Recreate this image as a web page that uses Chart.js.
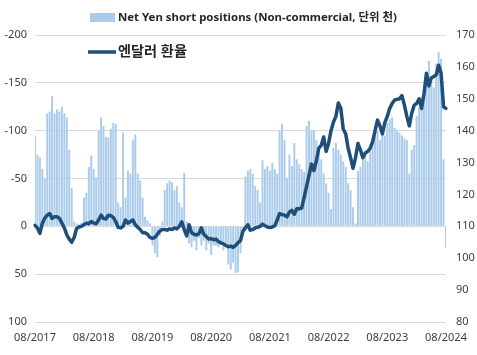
<!DOCTYPE html>
<html>
<head>
<meta charset="utf-8">
<script src="https://cdn.jsdelivr.net/npm/chart.js@4.4.1/dist/chart.umd.min.js"></script>
<style>
  html, body { margin: 0; padding: 0; background: #ffffff; }
  #wrap { width: 477px; height: 355px; position: relative; }
</style>
</head>
<body>
<div id="wrap"><canvas id="c" width="477" height="355"></canvas></div>
<script>
// ---- data (half-monthly, 08/2017 .. 08/2024) ----
const startYear = 2017;
const xTickLabels = ['08/2017','08/2018','08/2019','08/2020','08/2021','08/2022','08/2023','08/2024'];
const leftTicks = [-200, -150, -100, -50, 0, 50, 100];
const rightTicks = [80, 90, 100, 110, 120, 130, 140, 150, 160, 170];

// Net Yen short positions (Non-commercial, thousands; negative = net short)
const shortPositions = [
  -95, -75, -72, -60, -50, -118, -120, -136, -118, -122,
  -120, -125, -118, -114, -80, -40, -5, -3, -2, -4,
  -30, -35, -62, -74, -60, -51, -100, -114, -105, -93,
  -93, -102, -108, -107, -25, -20, -98, -30, -58, -55,
  -90, -96, -55, -48, -30, -10, -6, -3, 20, 28,
  32, 10, -5, -38, -45, -48, -46, -38, -42, -25,
  -20, -56, -5, 18, 22, 15, 25, 12, 20, 15,
  25, 18, 30, 20, 20, 22, 18, 25, 20, 40,
  45, 38, 49, 48, 28, 10, -52, -58, -60, -55,
  -42, -38, -25, -69, -60, -63, -58, -66, -60, -55,
  -100, -107, -90, -50, -75, -63, -87, -70, -65, -60,
  -57, -105, -110, -100, -100, -90, -80, -70, -55, -45,
  -35, -18, -82, -87, -80, -75, -68, -62, -45, -38,
  -20, -3, -58, -62, -70, -75, -68, -85, -92, -95,
  -100, -90, -98, -95, -108, -112, -114, -103, -100, -98,
  -95, -92, -90, -55, -80, -85, -115, -124, -135, -142,
  -158, -173, -150, -145, -170, -182, -175, -70, 22
];

// USD/JPY exchange rate (엔달러 환율)
const usdJpy = [
  110.3, 109.5, 107.8, 111.0, 112.6, 113.5, 114.0, 112.5, 113.0, 113.0,
  112.5, 111.0, 109.5, 107.3, 106.0, 105.0, 106.5, 109.3, 109.8, 110.0,
  110.5, 111.0, 110.8, 111.5, 111.0, 110.8, 112.0, 113.5, 112.5, 112.3,
  113.5, 113.3, 112.8, 111.5, 109.7, 109.5, 110.0, 112.0, 111.0, 111.5,
  112.0, 110.5, 109.7, 109.0, 108.0, 108.0, 107.5, 106.5, 106.2, 106.5,
  107.5, 108.5, 109.0, 109.0, 108.8, 109.2, 109.0, 109.5, 109.2, 110.0,
  111.4, 109.0, 107.0, 110.5, 108.0, 107.5, 107.3, 107.7, 109.5, 107.5,
  106.8, 106.0, 106.2, 105.8, 106.0, 105.2, 104.8, 104.5, 104.0, 103.6,
  103.8, 103.4, 104.0, 104.9, 105.5, 108.5, 109.5, 110.5, 108.8, 109.0,
  109.5, 109.7, 110.0, 110.7, 110.2, 109.8, 109.6, 109.8, 110.2, 112.0,
  114.0, 113.7, 113.5, 113.0, 114.5, 115.0, 113.8, 115.5, 115.5, 115.7,
  119.0, 122.5, 126.0, 129.5, 127.5, 130.5, 134.5, 135.4, 138.0, 133.5,
  136.0, 140.0, 142.7, 144.5, 148.7, 147.0, 140.5, 139.0, 134.5, 131.5,
  128.2, 131.5, 136.0, 134.0, 131.5, 133.0, 133.5, 134.5, 136.5, 140.0,
  143.3, 141.5, 139.0, 142.5, 144.5, 147.0, 148.5, 149.6, 149.8, 150.0,
  151.0, 148.0, 144.5, 141.5, 145.5, 148.0, 148.5, 150.0, 147.0, 151.5,
  158.0, 154.0, 156.5, 157.0, 157.5, 160.5, 158.0, 147.5, 147.0
];

// categories: half-month periods from 08/2017
const categories = [];
for (let i = 0; i < shortPositions.length; i++) {
  const m = 7 + Math.floor(i / 2);
  const y = startYear + Math.floor(m / 12);
  const mm = (m % 12) + 1;
  categories.push((mm < 10 ? '0' : '') + mm + '/' + y + (i % 2 ? ' H2' : ' H1'));
}

const BAR_COLOR = '#abcbeb';
const LINE_COLOR = '#1f4e79';
const TEXT_COLOR = '#404040';
const FONT_FAMILY = '"Noto Sans", "Noto Sans CJK KR", sans-serif';

const legendPlugin = {
  id: 'customLegend',
  afterDraw(chart) {
    const ctx = chart.ctx;
    ctx.save();
    function fitFont(text, target) {
      ctx.font = 'bold 12px ' + FONT_FAMILY;
      const w = ctx.measureText(text).width;
      const size = 12 * target / w;
      ctx.font = 'bold ' + size.toFixed(2) + 'px ' + FONT_FAMILY;
    }
    ctx.fillStyle = BAR_COLOR;
    ctx.fillRect(90, 13, 25, 9);
    const t1 = 'Net Yen short positions (Non-commercial, 단위 천)';
    fitFont(t1, 279);
    ctx.fillStyle = '#262626';
    ctx.textBaseline = 'middle';
    ctx.textAlign = 'left';
    ctx.fillText(t1, 118, 18);
    ctx.strokeStyle = LINE_COLOR;
    ctx.lineWidth = 3.5;
    ctx.beginPath();
    ctx.moveTo(88, 52);
    ctx.lineTo(116, 52);
    ctx.stroke();
    const t2 = '엔달러 환율';
    fitFont(t2, 69);
    ctx.fillStyle = '#262626';
    ctx.fillText(t2, 118, 52);
    ctx.restore();
  }
};

const chart = new Chart(document.getElementById('c'), {
  type: 'bar',
  data: {
    labels: categories,
    datasets: [
      {
        type: 'line',
        label: '엔달러 환율',
        data: usdJpy,
        yAxisID: 'y1',
        borderColor: LINE_COLOR,
        borderWidth: 3.5,
        pointRadius: 0,
        tension: 0,
        borderJoinStyle: 'round',
        borderCapStyle: 'round',
        order: 0
      },
      {
        type: 'bar',
        label: 'Net Yen short positions (Non-commercial, 단위 천)',
        data: shortPositions,
        yAxisID: 'y',
        backgroundColor: BAR_COLOR,
        borderWidth: 0,
        barPercentage: 0.8,
        categoryPercentage: 1.0,
        order: 1
      }
    ]
  },
  options: {
    responsive: false,
    animation: false,
    devicePixelRatio: 1,
    layout: { padding: { top: 35, left: 0, right: 0, bottom: 0 } },
    plugins: {
      legend: { display: false },
      tooltip: { enabled: false },
      title: { display: false }
    },
    scales: {
      x: {
        type: 'category',
        offset: false,
        grid: { display: false, drawTicks: false },
        border: { display: false },
        ticks: {
          autoSkip: false,
          maxRotation: 0,
          minRotation: 0,
          padding: 9,
          color: TEXT_COLOR,
          font: { family: FONT_FAMILY, size: 11 },
          callback: function (val, index) {
            return index % 24 === 0 ? xTickLabels[index / 24] : null;
          }
        },
        afterFit: function (scale) { scale.height = 33; }
      },
      y: {
        position: 'left',
        reverse: true,
        min: leftTicks[0],
        max: leftTicks[leftTicks.length - 1],
        afterBuildTicks: function (scale) { scale.ticks = leftTicks.map(v => ({ value: v })); },
        grid: { color: '#d9d9d9', lineWidth: 1, drawTicks: false },
        border: { display: false },
        ticks: {
          padding: 8,
          color: TEXT_COLOR,
          font: { family: FONT_FAMILY, size: 11 }
        },
        afterFit: function (scale) { scale.width = 35; }
      },
      y1: {
        position: 'right',
        min: rightTicks[0],
        max: rightTicks[rightTicks.length - 1],
        afterBuildTicks: function (scale) { scale.ticks = rightTicks.map(v => ({ value: v })); },
        grid: { display: false, drawTicks: false },
        border: { display: false },
        ticks: {
          padding: 10,
          color: TEXT_COLOR,
          font: { family: FONT_FAMILY, size: 11 }
        },
        afterFit: function (scale) { scale.width = 31; }
      }
    }
  },
  plugins: [legendPlugin]
});
</script>
</body>
</html>
